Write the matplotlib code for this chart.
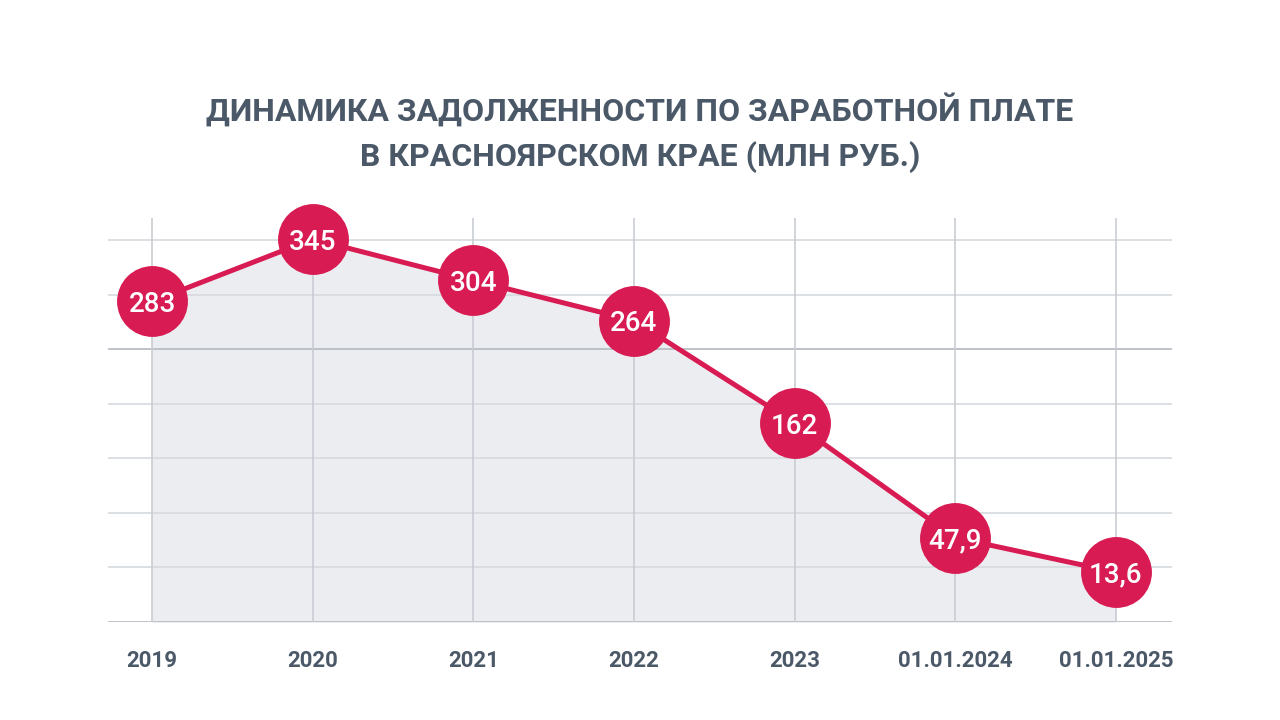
import matplotlib.pyplot as plt
import numpy as np

# debt values, mln rub
labels = ['2019', '2020', '2021', '2022', '2023', '01.01.2024', '01.01.2025']
values = [283, 345, 304, 264, 162, 47.9, 13.6]
value_text = ['283', '345', '304', '264', '162', '47,9', '13,6']

RED = '#D81B52'
TEXT = '#4A5868'

plt.rcParams['font.family'] = ['Roboto', 'DejaVu Sans']

fig = plt.figure(figsize=(12.8, 7.2), dpi=100)
ax = fig.add_axes([108/1280, 1 - 622/720, (1172 - 108)/1280, (622 - 218)/720])

x = np.arange(len(values))
ybottom = -36
ax.set_xlim(-0.275, 6.35)
ax.set_ylim(ybottom, 366)

# grid
grid_vals = [ybottom + k*54.3 for k in range(8)]
for i, g in enumerate(grid_vals):
    col = '#B4B9C0' if i in (0, 5) else '#D6D9DE'
    ax.axhline(g, color=col, lw=1.2, zorder=1)
for xi in x:
    ax.axvline(xi, color='#C9CDD3', lw=1.2, zorder=1)

ax.fill_between(x, values, ybottom, color='#ECEDF1', zorder=0)
ax.plot(x, values, color=RED, lw=3.6, zorder=3)
ax.plot(x, values, 'o', ms=50, color=RED, mec=RED, zorder=4, clip_on=False)
for xi, v, t in zip(x, values, value_text):
    ax.text(xi, v, t, ha='center', va='center_baseline', color='white',
            fontsize=20, fontweight='medium', zorder=5)

ax.set_xticks(x)
ax.set_xticklabels(labels, fontsize=16, fontweight='bold', color=TEXT)
ax.tick_params(axis='x', length=0, pad=20)
ax.set_yticks([])
for s in ax.spines.values():
    s.set_visible(False)

fig.text(0.5, 1 - 110/720, 'ДИНАМИКА ЗАДОЛЖЕННОСТИ ПО ЗАРАБОТНОЙ ПЛАТЕ',
         ha='center', va='center', fontsize=23, fontweight='bold', color=TEXT)
fig.text(0.5, 1 - 157/720, 'В КРАСНОЯРСКОМ КРАЕ (МЛН РУБ.)',
         ha='center', va='center', fontsize=23, fontweight='bold', color=TEXT)

fig.savefig('out.png', dpi=100)
